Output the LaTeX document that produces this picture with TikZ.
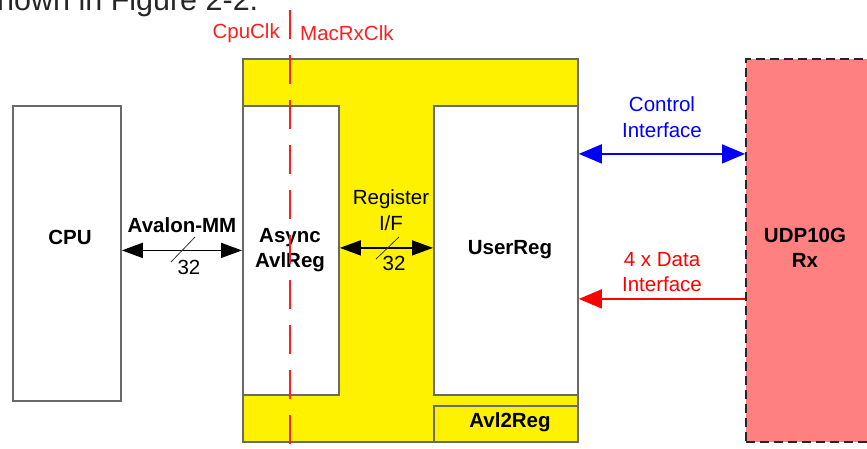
\documentclass[tikz,border=0pt]{standalone}
\usepackage{fontspec}
\setmainfont{Liberation Sans}
\usetikzlibrary{arrows.meta}
\definecolor{boxgray}{RGB}{105,105,105}
\definecolor{udpred}{RGB}{255,128,128}
\definecolor{clkred}{RGB}{255,30,30}
\definecolor{ifblue}{RGB}{0,0,255}
\definecolor{ifred}{RGB}{255,0,0}
\begin{document}
\begin{tikzpicture}[x=1pt,y=-1pt,
  font=\fontsize{20.5}{25.5}\selectfont,
  box/.style={draw=boxgray,line width=1.8pt,inner sep=0pt,anchor=north west},
  lbl/.style={inner sep=0pt,align=center},
  blbl/.style={lbl,font=\fontsize{20.5}{25.5}\selectfont\bfseries},
  blkarrow/.style={line width=1.6pt,{Triangle[length=21pt,width=15pt]}-{Triangle[length=21pt,width=15pt]}},
  bluearrow/.style={ifblue,line width=1.6pt,{Triangle[length=23pt,width=19pt]}-{Triangle[length=23pt,width=19pt]}},
  redarrow/.style={ifred,line width=1.6pt,{Triangle[length=23pt,width=19pt]}-},
  slash/.style={line width=0.8pt,black!80}
]
\useasboundingbox (0,0) rectangle (867,448);
\begin{scope}
\clip (0,0) rectangle (867,448);
% cut-off caption text at top
\node[anchor=base west,inner sep=0pt,text=black!85,font=\fontsize{30.5}{32}\selectfont] (caption) at (-3,10) {hown in Figure 2-2.};

% blocks
\node[box,fill=yellow,minimum width=335pt,minimum height=383pt] (outer) at (242,58) {};
\node[box,fill=white,minimum width=108pt,minimum height=295pt] (cpu) at (12,105) {};
\node[box,fill=white,minimum width=96pt,minimum height=289pt] (async) at (242,105) {};
\node[box,fill=white,minimum width=144pt,minimum height=289pt] (userreg) at (433,105) {};
\node[box,fill=yellow,minimum width=144pt,minimum height=36pt] (avl2reg) at (433,405) {};
\node[box,draw=black!85,dash pattern=on 9pt off 5pt,fill=udpred,minimum width=140pt,minimum height=383pt] (udp) at (745,58) {};

% block labels
\node[blbl] (cputxt) at (70,237) {CPU};
\node[blbl] (asynctxt) at (290,250) {Async\\AvlReg};
\node[blbl] (usertxt) at (510,250) {UserReg};
\node[blbl] (avl2txt) at (510,422) {Avl2Reg};
\node[blbl] (udptxt) at (805,248) {UDP10G\\Rx};

% clock boundary
\coordinate (clktop) at (290,10);
\coordinate (clkbot) at (290,448);
\draw[clkred,line width=1.6pt,dash pattern=on 29pt off 16pt] (clktop) -- (clkbot);
\node[lbl,text=clkred,anchor=east] (cpuclk) at (280,33) {CpuClk};
\node[lbl,text=clkred,anchor=west] (macclk) at (300,33) {MacRxClk};

% Avalon-MM
\draw[blkarrow] (cpu.east |- async.west) -- (async.west);
\node[blbl] (avalontxt) at (182,225) {Avalon-MM};
\draw[slash] (171,262) -- (195,237);
\node[lbl] (avw) at (189,267) {32};

% Register I/F
\draw[blkarrow] ([yshift=2.5pt]async.east) -- ([yshift=2.5pt]userreg.west);
\node[lbl] (regtxt) at (391,210) {Register\\I/F};
\draw[slash] (376,259) -- (399,237);
\node[lbl] (rgw) at (394,263) {32};

% Control interface
\draw[bluearrow] ([yshift=96.5pt]userreg.east) -- ([yshift=96.5pt]udp.west);
\node[lbl,text=ifblue] (ctltxt) at (662,117) {Control\\Interface};

% Data interface
\draw[redarrow] ([yshift=-48.5pt]userreg.east) -- ([yshift=-48.5pt]udp.west);
\node[lbl,text=ifred] (datatxt) at (662,272) {4 x Data\\Interface};
\end{scope}
\end{tikzpicture}
\end{document}
